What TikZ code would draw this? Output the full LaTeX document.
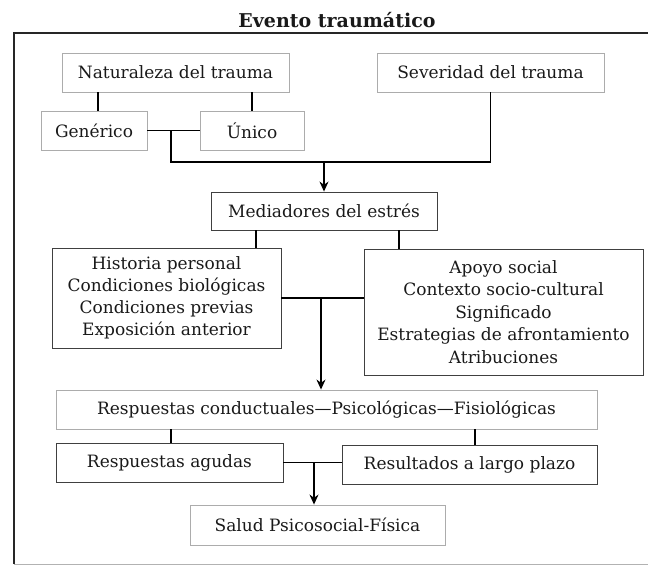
\documentclass[tikz,border=0pt]{standalone}
\usepackage{fontspec}
\setmainfont{DejaVu Serif}
\usetikzlibrary{arrows.meta}
\begin{document}
\begin{tikzpicture}[x=1pt,y=-1pt,
  txt/.style={font=\fontsize{17}{22.5}\selectfont, text=black!90},
  boxd/.style={txt, draw=black!75, line width=0.9pt, inner sep=0pt, align=center},
  boxl/.style={txt, draw=gray!65, line width=0.9pt, inner sep=0pt, align=center},
  conn/.style={line width=1.2pt, black},
  arr/.style={conn, -{Stealth[length=10pt,width=9pt]}}]
\useasboundingbox (0,0) rectangle (648,566);
% frame
\node[font=\fontsize{19}{22}\selectfont\bfseries, text=black!90] (title) at (337,20) {Evento traumático};
\coordinate (f1) at (648,33);
\coordinate (f2) at (14,33);
\coordinate (f3) at (14,564);
\coordinate (f4) at (648,564);
\draw[line width=1.6pt, black!85] (f1) -- (f2) -- (f3);
\draw[line width=0.8pt, gray!60] (f3) -- (f4);
% boxes
\node[boxl, minimum width=227pt, minimum height=39pt] (nat) at (175.5,72.5) {Naturaleza del trauma};
\node[boxl, minimum width=227pt, minimum height=39pt] (sev) at (490.5,72.5) {Severidad del trauma};
\node[boxl, minimum width=106pt, minimum height=39pt] (gen) at (94,130.5) {Genérico};
\node[boxl, minimum width=104pt, minimum height=39pt] (uni) at (252,130.5) {Único};
\node[boxd, minimum width=226pt, minimum height=38pt] (med) at (324,211) {Mediadores del estrés};
\node[boxd, minimum width=229pt, minimum height=100pt, font=\fontsize{17}{22}\selectfont] (his) at (166.5,298) {Historia personal\\Condiciones biológicas\\Condiciones previas\\Exposición anterior};
\node[boxd, minimum width=279pt, minimum height=126pt] (apo) at (503.5,312) {Apoyo social\\Contexto socio-cultural\\Significado\\Estrategias de afrontamiento\\Atribuciones};
\node[boxl, minimum width=541pt, minimum height=39pt] (resp) at (326.5,409.5) {Respuestas conductuales—Psicológicas—Fisiológicas};
\node[boxd, minimum width=227pt, minimum height=39pt] (agu) at (169.5,462.5) {Respuestas agudas};
\node[boxd, minimum width=255pt, minimum height=39pt] (res) at (469.5,464.5) {Resultados a largo plazo};
\node[boxl, minimum width=255pt, minimum height=40pt] (sal) at (317.5,525) {Salud Psicosocial-Física};
% connectors top
\coordinate (k1) at (98,0);
\coordinate (k2) at (252,0);
\draw[conn] (k1 |- nat.south) -- (k1 |- gen.north);
\draw[conn] (k2 |- nat.south) -- (k2 |- uni.north);
\draw[conn] (gen.east) -- (uni.west);
\coordinate (j1) at (171,162);
\draw[conn] (j1 |- gen.east) -- (j1) -| (sev.south);
\draw[arr] (j1 -| med.north) -- (med.north);
% mediadores
\coordinate (k3) at (256,0);
\coordinate (k4) at (399,0);
\draw[conn] (k3 |- med.south) -- (k3 |- his.north);
\draw[conn] (k4 |- med.south) -- (k4 |- apo.north);
\coordinate (j3) at (321,297);
\draw[conn] (his.east) -- (his.east -| apo.west);
\draw[arr] (j3) -- (j3 |- resp.north);
% respuestas
\coordinate (k5) at (171,0);
\coordinate (k6) at (475,0);
\draw[conn] (k5 |- resp.south) -- (k5 |- agu.north);
\draw[conn] (k6 |- resp.south) -- (k6 |- res.north);
\coordinate (j4) at (314,463);
\draw[conn] (agu.east) -- (agu.east -| res.west);
\draw[arr] (j4) -- (j4 |- sal.north);
\end{tikzpicture}
\end{document}
